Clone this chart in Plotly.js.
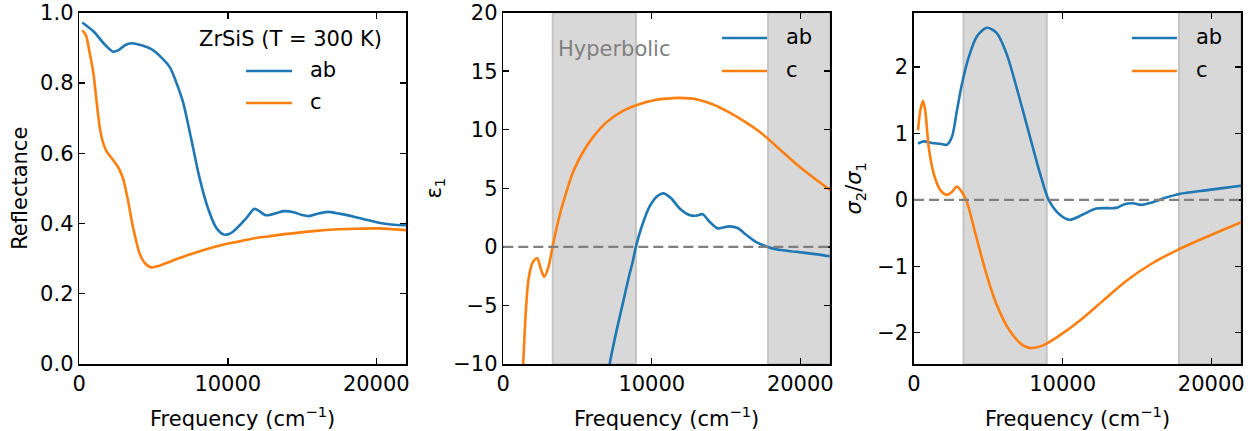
<!DOCTYPE html>
<html>
<head>
<meta charset="utf-8">
<script src="https://cdn.plot.ly/plotly-3.0.1.min.js"></script>
<style>html,body{margin:0;padding:0;background:#fff;}#chart{width:1258px;height:431px;}</style>
</head>
<body>
<div id="chart"></div>
<script>
// ---------- data ----------
const reflAbX = [200,1000,1700,2280,2700,3100,3515,4200,4860,5416,6090,6500,6980,7540,8100,8660,9220,9700,10000,10300,10800,11300,11790,12100,12500,12800,13300,13805,14500,15000,15480,16000,16710,17500,18620,19400,20180,21000,21860,22000];
const reflAbY = [0.972,0.945,0.910,0.889,0.895,0.908,0.913,0.907,0.896,0.877,0.845,0.805,0.746,0.640,0.529,0.444,0.388,0.369,0.369,0.375,0.395,0.418,0.4415,0.436,0.424,0.424,0.430,0.435,0.431,0.424,0.421,0.427,0.433,0.428,0.418,0.410,0.402,0.397,0.395,0.395];
const reflCX = [200,450,700,940,1168,1389,1600,1839,2200,2617,2953,3289,3624,4074,4400,4860,5400,5970,6700,7540,8600,9780,10800,11790,12700,13690,14800,15930,17200,18620,20180,21000,22000];
const reflCY = [0.950,0.935,0.885,0.830,0.746,0.670,0.630,0.605,0.585,0.560,0.527,0.463,0.388,0.313,0.288,0.275,0.280,0.289,0.301,0.313,0.327,0.341,0.349,0.358,0.363,0.369,0.374,0.379,0.383,0.385,0.386,0.384,0.381];

const eps1AbX = [7000,7161,7600,8054,8450,8725,8930,9289,9846,10403,10785,11302,11859,12530,12980,13423,13872,14430,15215,15772,16336,17007,17678,18349,19691,21000,22000];
const eps1AbY = [-11.2,-10,-7.3,-4.8,-2.6,-1.21,0,1.61,3.44,4.37,4.57,4.15,3.3,2.72,2.66,2.79,2.17,1.58,1.75,1.61,1.05,0.42,0.06,-0.2,-0.42,-0.62,-0.8];
const eps1CX = [1300,1342,1456,1570,1678,1850,2013,2282,2510,2752,3020,3134,3315,3805,4255,4698,5369,6040,6940,8054,8953,10295,11409,11859,12980,14094,15215,16336,17450,18570,19691,20805,22000];
const eps1CY = [-12,-10,-6.9,-4.5,-2.94,-1.8,-1.25,-0.97,-1.81,-2.56,-1.81,-1.21,0,2.74,4.71,6.40,8.10,9.37,10.63,11.62,12.10,12.56,12.70,12.72,12.61,12.18,11.48,10.63,9.64,8.38,7.11,5.98,4.86];

const ratioAbX = [268,651,1208,1765,2215,2550,2886,3221,3671,4228,4899,5570,6242,7025,7808,8477,9060,9799,10470,11362,12260,13376,13711,14161,14718,15282,16060,16960,17852,19866,21879,22000];
const ratioAbY = [0.845,0.88,0.855,0.845,0.83,0.945,1.34,1.74,2.14,2.46,2.59,2.51,2.19,1.59,0.945,0.40,0,-0.22,-0.30,-0.22,-0.13,-0.125,-0.115,-0.065,-0.05,-0.075,-0.035,0.035,0.09,0.15,0.21,0.215];
const ratioCX = [268,423,604,758,986,1322,1765,2215,2550,2886,3221,3557,4206,4877,5550,6443,7336,7897,8680,9799,11141,12707,14275,16060,17852,19866,21879,22000];
const ratioCY = [1.045,1.34,1.49,1.34,0.80,0.40,0.15,0.075,0.12,0.20,0.12,-0.03,-0.57,-1.12,-1.57,-1.97,-2.19,-2.23,-2.19,-2.04,-1.82,-1.52,-1.22,-0.95,-0.74,-0.54,-0.35,-0.34];

const hyperbolicBands = [[3330, 8930], [17830, 22000]];
const seriesNames = ['ab', 'c'];
const seriesColors = ['#1f77b4', '#ff7f0e'];
const xTicks = [0, 10000, 20000];
const xTickText = ['0', '10000', '20000'];
const yTicks1 = [0, 0.2, 0.4, 0.6, 0.8, 1.0];
const yTickText1 = ['0.0', '0.2', '0.4', '0.6', '0.8', '1.0'];
const yTicks2 = [-10, -5, 0, 5, 10, 15, 20];
const yTickText2 = ['−10', '−5', '0', '5', '10', '15', '20'];
const yTicks3 = [-2, -1, 0, 1, 2];
const yTickText3 = ['−2', '−1', '0', '1', '2'];

// ---------- layout helpers ----------
const W = 1258, H = 431;
const FONT = 'DejaVu Sans';
const FS = 21;
const px = v => v / W;
const py = v => 1 - v / H;

function line(x, y, name, ci, xa, ya) {
  return {x: x, y: y, type: 'scatter', mode: 'lines', name: name, xaxis: xa, yaxis: ya,
    line: {color: seriesColors[ci], width: 2.6, shape: 'spline', smoothing: 0.8}, showlegend: false, hoverinfo: 'skip'};
}

const traces = [
  line(reflAbX, reflAbY, seriesNames[0], 0, 'x', 'y'),
  line(reflCX, reflCY, seriesNames[1], 1, 'x', 'y'),
  line(eps1AbX, eps1AbY, seriesNames[0], 0, 'x2', 'y2'),
  line(eps1CX, eps1CY, seriesNames[1], 1, 'x2', 'y2'),
  line(ratioAbX, ratioAbY, seriesNames[0], 0, 'x3', 'y3'),
  line(ratioCX, ratioCY, seriesNames[1], 1, 'x3', 'y3')
];

function axis(extra) {
  return Object.assign({
    showline: true, mirror: 'ticks', linecolor: 'black', linewidth: 1.6,
    ticks: 'inside', ticklen: 6, tickwidth: 1.4, tickcolor: 'black',
    showgrid: false, zeroline: false, fixedrange: true, tickmode: 'array',
    ticklabeloverflow: 'allow',
    tickfont: {family: FONT, size: FS, color: 'black'}
  }, extra);
}
const yDom = [1 - 364 / H, 1 - 12.5 / H];
const xTitle = {text: 'Frequency (cm<sup>−1</sup>)', font: {family: FONT, size: FS, color: 'black'}};

const shapes = [];
['x2', 'x3'].forEach((xa, i) => {
  const ya = i === 0 ? 'y2' : 'y3';
  hyperbolicBands.forEach(b => {
    shapes.push({type: 'rect', xref: xa, yref: ya + ' domain', x0: b[0], x1: b[1], y0: 0, y1: 1,
      fillcolor: 'rgb(216,216,216)', line: {color: 'rgb(196,196,196)', width: 2}, layer: 'below'});
  });
  shapes.push({type: 'line', xref: xa + ' domain', yref: ya, x0: 0, x1: 1, y0: 0, y1: 0,
    line: {color: 'rgb(128,128,128)', width: 2.4, dash: '10px,5px'}, layer: 'above'});
});

const annotations = [];
const legends = [
  {x0: 246, x1: 292, tx: 308, ys: [71, 103], title: 'ZrSiS (T = 300 K)', titleX: 290, titleY: 39},
  {x0: 722, x1: 767, tx: 784, ys: [38, 71]},
  {x0: 1132, x1: 1177, tx: 1194, ys: [38, 71]}
];
legends.forEach(L => {
  L.ys.forEach((yy, k) => {
    shapes.push({type: 'line', xref: 'paper', yref: 'paper', x0: px(L.x0), x1: px(L.x1), y0: py(yy), y1: py(yy),
      line: {color: seriesColors[k], width: 2.6}});
    annotations.push({xref: 'paper', yref: 'paper', x: px(L.tx), y: py(yy - 1), xanchor: 'left', yanchor: 'middle',
      text: seriesNames[k], showarrow: false, font: {family: FONT, size: FS, color: 'black'}});
  });
  if (L.title) {
    annotations.push({xref: 'paper', yref: 'paper', x: px(L.titleX), y: py(L.titleY), xanchor: 'center', yanchor: 'middle',
      text: L.title, showarrow: false, font: {family: FONT, size: FS, color: 'black'}});
  }
});
annotations.push({xref: 'paper', yref: 'paper', x: px(556), y: py(49), xanchor: 'left', yanchor: 'middle',
  text: 'Hyperbolic', showarrow: false, font: {family: FONT, size: FS, color: 'rgb(128,128,128)'}});

const layout = {
  width: W, height: H, margin: {l: 0, r: 0, t: 0, b: 0},
  paper_bgcolor: 'white', plot_bgcolor: 'white', showlegend: false,
  xaxis: axis({domain: [px(79.3), px(406)], range: [0, 22000], tickvals: xTicks, ticktext: xTickText, title: xTitle, anchor: 'y'}),
  yaxis: axis({domain: yDom, range: [0, 1.0005], tickvals: yTicks1, ticktext: yTickText1, anchor: 'x',
    title: {text: 'Reflectance', font: {family: FONT, size: FS, color: 'black'}}}),
  xaxis2: axis({domain: [px(503.3), px(830)], range: [0, 22000], tickvals: xTicks, ticktext: xTickText, title: xTitle, anchor: 'y2'}),
  yaxis2: axis({domain: yDom, range: [-10, 20.01], tickvals: yTicks2, ticktext: yTickText2, anchor: 'x2',
    title: {text: 'ε<sub>1</sub>', standoff: 6, font: {family: FONT, size: FS, color: 'black'}}}),
  xaxis3: axis({domain: [px(914), px(1241)], range: [0, 22000], tickvals: xTicks, ticktext: xTickText, title: xTitle, anchor: 'y3'}),
  yaxis3: axis({domain: yDom, range: [-2.47, 2.82], tickvals: yTicks3, ticktext: yTickText3, anchor: 'x3',
    title: {text: '<i>σ</i><sub>2</sub>/<i>σ</i><sub>1</sub>', font: {family: FONT, size: FS, color: 'black'}}}),
  shapes: shapes,
  annotations: annotations
};

Plotly.newPlot('chart', traces, layout, {displayModeBar: false, staticPlot: true});
</script>
</body>
</html>
